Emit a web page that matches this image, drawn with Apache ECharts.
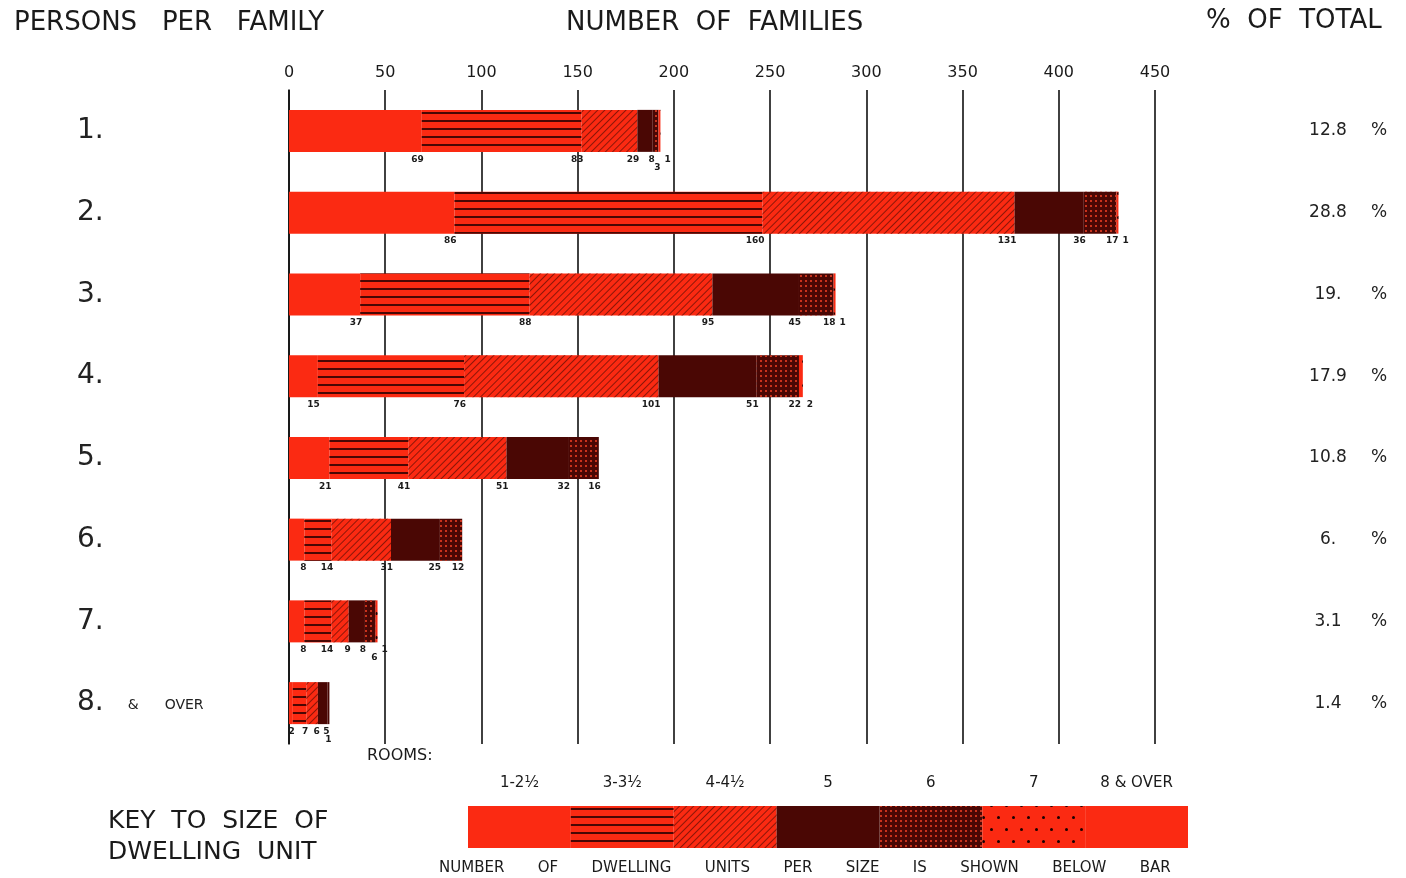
<!DOCTYPE html>
<html>
<head>
<meta charset="utf-8">
<title>Persons per family</title>
<script src="https://cdn.jsdelivr.net/npm/echarts@6/dist/echarts.min.js"></script>
<style>
  html, body { margin: 0; padding: 0; background: #fff; }
  #main { width: 1406px; height: 878px; }
</style>
</head>
<body>
<div id="main"></div>
<script>
// persons per family (rows) and size of dwelling unit (stacked segments)
const families = ['1.', '2.', '3.', '4.', '5.', '6.', '7.', '8.']
const pctOfTotal = ['12.8', '28.8', '19.', '17.9', '10.8', '6.', '3.1', '1.4']
const sizes = ['1-2½', '3-3½', '4-4½', '5', '6', '7', '8 & OVER']
const xTicks = [0, 50, 100, 150, 200, 250, 300, 350, 400, 450]

// number of dwelling units per size, one value per family row
const rooms1to2h = [69, 86, 37, 15, 21, 8, 8, 2]
const rooms3to3h = [83, 160, 88, 76, 41, 14, 14, 7]
const rooms4to4h = [29, 131, 95, 101, 51, 31, 9, 6]
const rooms5 = [8, 36, 45, 51, 32, 25, 8, 5]
const rooms6 = [3, 17, 18, 22, 16, 12, 6, 1]
const rooms7 = [1, 1, 1, 2, 0, 0, 1, 0]
const rooms8up = [0, 0, 0, 0, 0, 0, 0, 0]
const seriesData = [rooms1to2h, rooms3to3h, rooms4to4h, rooms5, rooms6, rooms7, rooms8up]

// the key is one bar cut into equal swatches
const keyUnits = [1, 1, 1, 1, 1, 1, 1]

const RED = '#fb2a12'
const DARK = '#4a0704'
const styles = [
  { color: RED },
  { color: RED, decal: { symbol: 'rect', symbolSize: 1, dashArrayX: [1, 0], dashArrayY: [2, 6], color: DARK } },
  { color: RED, decal: { symbol: 'rect', symbolSize: 1, dashArrayX: [1, 0], dashArrayY: [1, 3.4], rotation: -Math.PI / 4, color: '#8c1608' } },
  { color: DARK },
  { color: DARK, decal: { symbol: 'rect', symbolSize: 1, dashArrayX: [1.5, 2.5], dashArrayY: [1.5, 2.5], color: '#c8321c' } },
  { color: RED, decal: { symbol: 'circle', symbolSize: 1, dashArrayX: [[3, 12], [0, 7, 3, 5]], dashArrayY: [3, 9], color: '#1a0000' } },
  { color: RED }
]

const font = 'DejaVu Sans'
const ink = '#1a1a1a'
const myChart = echarts.init(document.getElementById('main'))

const barSeries = sizes.map((name, i) => ({
  name: name,
  type: 'bar',
  stack: 'rooms',
  xAxisIndex: 0,
  yAxisIndex: 0,
  barWidth: 42,
  itemStyle: styles[i],
  label: {
    show: true,
    position: ['100%', '100%'],
    // the last thin segment's number sits just past the bar end
    align: i === 5 ? 'left' : 'right',
    verticalAlign: 'top',
    offset: i === 5 ? [4, 3] : [2, 3],
    fontFamily: font,
    fontSize: 9,
    fontWeight: 'bold',
    color: ink,
    formatter: p => (p.value ? p.value : '')
  },
  data: seriesData[i].map(v => (i === 4 && v < 8 ? { value: v, label: { offset: [2, 11] } } : v))
}))

const headStyle = { fontFamily: font, fontWeight: 'normal', fontSize: 26, color: ink }

myChart.setOption({
  animation: false,
  backgroundColor: '#fff',
  textStyle: { fontFamily: font },
  title: [
    { text: 'PERSONS   PER   FAMILY', left: 9, top: 5, textStyle: headStyle },
    { text: 'NUMBER  OF  FAMILIES', left: 561, top: 5, textStyle: headStyle },
    { text: '%  OF  TOTAL', left: 1201, top: 3, textStyle: headStyle },
    { text: 'ROOMS:', left: 362, top: 743, textStyle: { fontFamily: font, fontWeight: 'normal', fontSize: 16, color: ink } },
    { text: 'KEY  TO  SIZE  OF\nDWELLING  UNIT', left: 103, top: 801, textStyle: { fontFamily: font, fontWeight: 'normal', fontSize: 25, lineHeight: 31, color: ink } },
    {
      text: 'NUMBER       OF       DWELLING       UNITS       PER       SIZE       IS       SHOWN       BELOW       BAR',
      left: 434, top: 856,
      textStyle: { fontFamily: font, fontWeight: 'normal', fontSize: 15, color: ink }
    }
  ],
  grid: [
    { left: 289, top: 90, width: 866, height: 654 },
    { left: 468, top: 806, width: 720, height: 42 }
  ],
  xAxis: [{
    gridIndex: 0,
    type: 'value',
    position: 'top',
    min: xTicks[0],
    max: xTicks[xTicks.length - 1],
    interval: xTicks[1] - xTicks[0],
    axisLine: { show: false },
    axisTick: { show: false },
    axisLabel: { margin: 9, fontSize: 16, color: ink, fontFamily: font },
    splitLine: { show: true, lineStyle: { color: '#111', width: 1.6 } }
  }, {
    gridIndex: 1,
    type: 'category',
    position: 'top',
    data: sizes,
    axisLine: { show: false },
    axisTick: { show: false },
    axisLabel: { margin: 15, fontSize: 15, color: ink, fontFamily: font }
  }],
  yAxis: [{
    gridIndex: 0,
    type: 'category',
    inverse: true,
    data: families,
    axisLine: { show: true, lineStyle: { color: '#111', width: 1.6 } },
    axisTick: { show: false },
    axisLabel: {
      align: 'left',
      margin: 212,
      color: '#222',
      formatter: v => (v === '8.' ? '{big|8.}{small|&}{small2|OVER}' : '{big|' + v + '}'),
      rich: {
        big: { fontSize: 28, fontFamily: font, color: '#222' },
        small: { fontSize: 14, fontFamily: font, color: '#222', padding: [4, 0, 0, 24] },
        small2: { fontSize: 14, fontFamily: font, color: '#222', padding: [4, 0, 0, 26] }
      }
    }
  }, {
    gridIndex: 0,
    type: 'category',
    position: 'right',
    inverse: true,
    data: families,
    axisLine: { show: false },
    axisTick: { show: false },
    axisLabel: {
      align: 'left',
      margin: 150,
      formatter: (v, i) => '{n|' + pctOfTotal[i] + '}{p|%}',
      rich: {
        n: { width: 46, align: 'right', fontSize: 17, fontFamily: font, color: '#222' },
        p: { fontSize: 17, fontFamily: font, color: '#222', padding: [0, 0, 0, 20] }
      }
    }
  }, {
    gridIndex: 1,
    type: 'value',
    min: 0,
    max: 1,
    show: false
  }],
  series: barSeries.concat([{
    name: 'key',
    type: 'bar',
    xAxisIndex: 1,
    yAxisIndex: 2,
    barWidth: '100%',
    data: keyUnits.map((v, i) => ({ value: v, itemStyle: styles[i] }))
  }])
})

window.addEventListener('resize', function () {
  myChart.resize()
})
</script>
</body>
</html>
